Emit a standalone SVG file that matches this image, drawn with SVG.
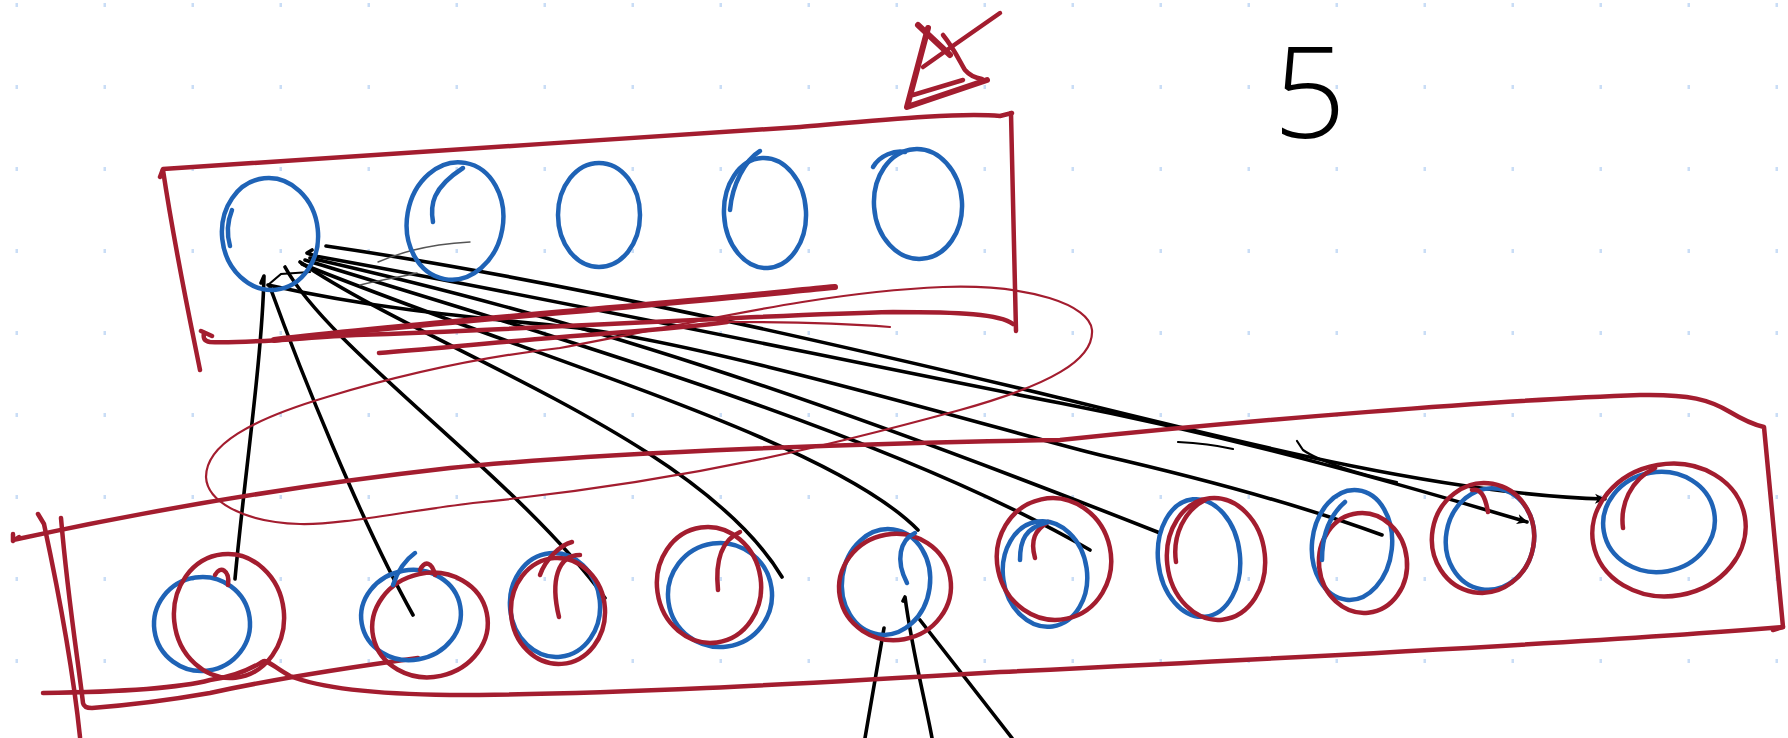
<svg xmlns="http://www.w3.org/2000/svg" width="1788" height="738" viewBox="0 0 1788 738">
<style>
.bl{fill:none;stroke:#1F63B6;stroke-width:4.5;stroke-linecap:round;stroke-linejoin:round}
.rd{fill:none;stroke:#A31D2F;stroke-width:4.5;stroke-linecap:round;stroke-linejoin:round}
.rdt{fill:none;stroke:#A31D2F;stroke-width:2.2;stroke-linecap:round;stroke-linejoin:round}
.rdk{fill:none;stroke:#A31D2F;stroke-width:6;stroke-linecap:round;stroke-linejoin:round}
.ln{fill:none;stroke:#000;stroke-width:3.6;stroke-linecap:round;stroke-linejoin:round}
.lt{fill:none;stroke:#000;stroke-width:2.2;stroke-linecap:round}
.gr{fill:none;stroke:#555;stroke-width:1.4;stroke-linecap:round}
.lbl{font-family:"Open Sans","Liberation Sans",sans-serif;font-weight:300;font-size:128px;fill:#000}
</style>
<defs>
<pattern id="dots" x="0" y="0" width="88" height="82" patternUnits="userSpaceOnUse">
<rect x="15.5" y="3" width="2.5" height="4" fill="#C9DDF6"/>
</pattern>
<marker id="arr" markerWidth="14" markerHeight="12" refX="11" refY="6" orient="auto" markerUnits="userSpaceOnUse">
<path d="M1,1 L12,6 L1,11 L4,6 Z" fill="#000"/>
</marker>
</defs>
<rect width="1788" height="738" fill="#fff"/>
<rect width="1788" height="738" fill="url(#dots)"/>

<g id="connectors">
<path class="ln" d="M261,283 L264,276 C262,360 244,480 235,579"/>
<path class="ln" d="M270,287 C300,370 360,520 413,615"/>
<path class="ln" d="M285,267 C330,350 520,480 605,598"/>
<path class="ln" d="M300,262 C430,350 700,440 782,577"/>
<path class="ln" d="M302,264 C540,360 830,440 918,530"/>
<path class="ln" d="M305,260 C600,350 900,440 1090,550"/>
<path class="ln" d="M310,258 C450,290 560,320 700,365 C840,410 1000,470 1160,533"/>
<path class="ln" d="M268,285 C380,310 480,318 560,326 C700,340 1000,430 1100,455 C1200,478 1300,505 1382,535"/>
<path class="ln" d="M312,250 L307,253 L315,256 C560,300 840,360 1060,403 C1250,440 1420,490 1527,522" marker-end="url(#arr)"/>
<path class="ln" d="M326,246 C560,280 840,345 1060,398 C1250,445 1450,495 1605,499" marker-end="url(#arr)"/>
<path class="lt" d="M268,285 L281,274 L310,272"/>
<path class="lt" d="M1178,442 C1200,443 1220,446 1233,449"/>
<path class="lt" d="M1297,441 L1303,450 C1320,462 1360,474 1397,482"/>
<path class="gr" d="M378,262 C395,255 420,245 470,242"/>
<path class="gr" d="M360,285 C380,280 400,277 417,273"/>
<path class="ln" d="M884,628 L865,738"/>
<path class="ln" d="M903,601 L905,597 C912,650 925,700 932,738"/>
<path class="ln" d="M920,620 L1012,738"/>
</g>

<g id="top-layer">
<path class="rd" d="M160,177 L163,169 C300,160 600,140 800,127 C880,120 960,112 1000,116 L1012,113"/>
<path class="rd" d="M163,170 C175,250 190,320 200,370"/>
<path class="rd" d="M1011,113 C1013,180 1014,260 1016,331"/>
<path class="rd" d="M1013,324 C1000,314 960,312 893,312 C760,315 560,328 356,335 C300,338 240,344 210,342 C204,341 203,338 204,333 M212,336 L201,331"/>
<path class="rd" d="M379,353 C450,347 520,340 600,334 C650,330 690,327 727,322"/>
<path class="rdt" d="M727,322 C800,322 850,324 890,327"/>
<path class="rdk" d="M274,340 C400,325 560,313 700,300 C760,295 800,290 835,287"/>
</g>

<g id="bottom-layer">
<path class="rd" d="M19,537 L13,541 L13,534 M13,540 C150,510 300,485 450,468 C600,452 900,442 1060,440 C1250,420 1500,400 1640,395 C1690,394 1710,400 1730,412 C1745,421 1755,425 1764,427 L1783,627 L1773,630"/>
<path class="rd" d="M1783,627 C1600,642 1250,660 1000,672 C800,684 600,695 450,695 C370,694 320,688 290,676 C275,668 266,658 262,662 C255,666 240,676 210,680 C180,688 120,692 43,693"/>
<path class="rd" d="M38,514 L44,524 C56,580 72,660 80,737"/>
<path class="rd" d="M61,518 C68,600 78,660 83,703 Q84,708 92,708 C130,705 170,700 210,693 C260,682 330,670 418,658"/>
</g>

<g id="lasso">
<path class="rdt" d="M560,348 C700,322 820,292 943,287 C1030,284 1090,305 1092,330 C1094,360 1050,385 960,410 C850,440 700,480 473,503 C400,512 340,525 300,524 C240,522 207,500 206,477 C206,445 250,420 327,397 C400,375 480,357 560,348"/>
</g>

<g id="top-n1"><ellipse class="bl" cx="270" cy="234" rx="48" ry="56" transform="rotate(-6 270 234)"/><path class="bl" d="M230,246 C226,232 228,220 232,210"/></g>
<g id="top-n2"><ellipse class="bl" cx="455" cy="221" rx="48" ry="59" transform="rotate(10 455 221)"/><path class="bl" d="M433,222 C430,205 432,188 463,168"/></g>
<g id="top-n3"><ellipse class="bl" cx="599" cy="215" rx="41" ry="52"/></g>
<g id="top-n4"><ellipse class="bl" cx="765" cy="213" rx="41" ry="55" transform="rotate(-3 765 213)"/><path class="bl" d="M730,210 C732,185 745,160 760,151"/></g>
<g id="top-n5"><ellipse class="bl" cx="918" cy="204" rx="44" ry="55" transform="rotate(-4 918 204)"/><path class="bl" d="M873,167 C880,155 895,150 905,152"/></g>

<g id="bot-n1"><ellipse class="bl" cx="202" cy="624" rx="48" ry="47" transform="rotate(-8 202 624)"/><ellipse class="rd" cx="229" cy="616" rx="55" ry="62" transform="rotate(-6 229 616)"/><path class="rd" d="M228,585 C230,570 220,565 215,575"/></g>
<g id="bot-n2"><ellipse class="bl" cx="411" cy="615" rx="50" ry="45" transform="rotate(-10 411 615)"/><ellipse class="rd" cx="430" cy="625" rx="58" ry="52" transform="rotate(-12 430 625)"/><path class="rd" d="M420,570 C425,560 432,562 435,575"/><path class="bl" d="M393,585 C398,570 405,560 415,553"/></g>
<g id="bot-n3"><ellipse class="bl" cx="555" cy="605" rx="45" ry="52" transform="rotate(-6 555 605)"/><ellipse class="rd" cx="558" cy="611" rx="47" ry="53" transform="rotate(-4 558 611)"/><path class="rd" d="M559,617 C550,580 558,555 580,555"/><path class="rd" d="M540,575 C545,560 560,545 572,542"/></g>
<g id="bot-n4"><ellipse class="bl" cx="720" cy="595" rx="52" ry="52" transform="rotate(-8 720 595)"/><ellipse class="rd" cx="709" cy="585" rx="52" ry="58" transform="rotate(-8 709 585)"/><path class="rd" d="M718,590 C715,560 722,540 740,532"/></g>
<g id="bot-n5"><ellipse class="bl" cx="886" cy="582" rx="44" ry="53" transform="rotate(8 886 582)"/><ellipse class="rd" cx="895" cy="587" rx="56" ry="53" transform="rotate(-10 895 587)"/><path class="bl" d="M907,583 C895,560 900,540 915,533"/></g>
<g id="bot-n6"><ellipse class="bl" cx="1045" cy="574" rx="42" ry="53" transform="rotate(-8 1045 574)"/><ellipse class="rd" cx="1054" cy="559" rx="57" ry="61" transform="rotate(-12 1054 559)"/><path class="rd" d="M1035,558 C1030,540 1035,530 1048,522"/><path class="bl" d="M1020,560 C1020,540 1025,528 1048,522"/></g>
<g id="bot-n7"><ellipse class="bl" cx="1199" cy="558" rx="41" ry="59" transform="rotate(-6 1199 558)"/><ellipse class="rd" cx="1216" cy="559" rx="49" ry="61" transform="rotate(-6 1216 559)"/><path class="rd" d="M1176,562 C1172,535 1185,510 1205,500"/></g>
<g id="bot-n8"><ellipse class="bl" cx="1352" cy="545" rx="40" ry="55" transform="rotate(6 1352 545)"/><ellipse class="rd" cx="1363" cy="563" rx="44" ry="50" transform="rotate(-6 1363 563)"/><path class="bl" d="M1322,560 C1322,535 1330,515 1345,502"/></g>
<g id="bot-n9"><ellipse class="bl" cx="1490" cy="539" rx="44" ry="51" transform="rotate(10 1490 539)"/><ellipse class="rd" cx="1483" cy="538" rx="51" ry="55" transform="rotate(10 1483 538)"/><path class="rd" d="M1488,512 C1485,495 1480,488 1472,490"/></g>
<g id="bot-n10"><ellipse class="bl" cx="1659" cy="522" rx="56" ry="50" transform="rotate(-10 1659 522)"/><ellipse class="rd" cx="1669" cy="530" rx="77" ry="66" transform="rotate(-10 1669 530)"/><path class="rd" d="M1623,528 C1620,505 1630,480 1655,468"/></g>

<g id="mark">
<path class="rdk" d="M928,28 L907,107 L987,80"/>
<path class="rd" d="M913,95 L963,80"/>
<path class="rdk" d="M918,25 L950,55"/>
<path class="rd" d="M943,35 C955,50 960,62 965,70 C970,76 976,78 982,79"/>
<path class="rd" d="M1000,13 L947,50 L923,67"/>
</g>

<g id="label"><text class="lbl" x="1273" y="138">5</text></g>
</svg>
